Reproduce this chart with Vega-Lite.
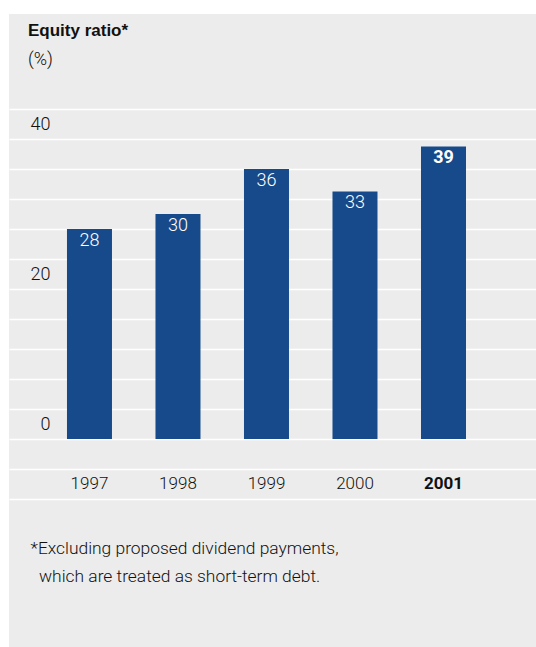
{
  "$schema": "https://vega.github.io/schema/vega-lite/v6.json",
  "width": 527,
  "height": 633,
  "autosize": {"type": "none"},
  "padding": {"left": 9, "top": 14, "right": 0, "bottom": 0},
  "background": "white",
  "config": {"view": {"fill": "#ececec", "stroke": null}, "font": "Roboto"},
  "title": {
    "text": "Equity ratio*",
    "subtitle": "(%)",
    "anchor": "start",
    "frame": "group",
    "offset": -56,
    "dx": 19,
    "fontSize": 17,
    "fontWeight": "bold",
    "font": "Liberation Sans",
    "color": "#111111",
    "subtitleFontSize": 18,
    "subtitleFont": "Roboto",
    "subtitleFontWeight": 300,
    "subtitleColor": "#111111",
    "subtitlePadding": 11
  },
  "data": {
    "values": [
      {"year": "1997", "ratio": 28},
      {"year": "1998", "ratio": 30},
      {"year": "1999", "ratio": 36},
      {"year": "2000", "ratio": 33},
      {"year": "2001", "ratio": 39}
    ]
  },
  "encoding": {
    "x": {
      "field": "year",
      "type": "nominal",
      "sort": null,
      "scale": {"type": "band", "paddingInner": 0.4915, "paddingOuter": 0.723, "align": 0.453},
      "axis": {
        "orient": "bottom",
        "offset": -172,
        "domain": false,
        "ticks": false,
        "tickSize": 0,
        "grid": false,
        "labelPadding": 8.5,
        "labelBaseline": "middle",
        "labelAngle": 0,
        "labelFontSize": 17,
        "labelFont": "Roboto",
        "labelFontWeight": {"condition": {"test": "datum.value === '2001'", "value": "bold"}, "value": 300},
        "labelColor": "#111111",
        "title": ["*Excluding proposed dividend payments,", "\u200b\u00a0\u00a0which are treated as short-term debt."],
        "titleX": 21,
        "titleY": 78,
        "titleAlign": "left",
        "titleAnchor": "start",
        "titleBaseline": "alphabetic",
        "titleFontSize": 17.4,
        "titleFont": "Roboto",
        "titleFontWeight": 300,
        "titleLineHeight": 28,
        "titleColor": "#111111"
      }
    },
    "y": {
      "field": "ratio",
      "type": "quantitative",
      "scale": {"domain": [-27.733, 56.667], "nice": false, "zero": false},
      "axis": {
        "orient": "left",
        "offset": -43,
        "values": [-8, -4, 0, 4, 8, 12, 16, 20, 24, 28, 32, 36, 40, 44],
        "labelExpr": "datum.value % 20 === 0 ? datum.label : ''",
        "labelOffset": -14.5,
        "labelBaseline": "middle",
        "labelPadding": 2,
        "labelFlush": false,
        "labelOverlap": false,
        "domain": false,
        "ticks": false,
        "tickSize": 0,
        "grid": true,
        "gridColor": "#ffffff",
        "gridWidth": 1.5,
        "gridOpacity": 1,
        "labelFontSize": 18,
        "labelFont": "Roboto",
        "labelFontWeight": 300,
        "labelColor": "#111111",
        "title": null
      }
    }
  },
  "layer": [
    {
      "mark": {"type": "bar", "color": "#174a8b"},
      "encoding": {"y2": {"datum": 0}}
    },
    {
      "transform": [{"filter": "datum.year !== '2001'"}],
      "mark": {"type": "text", "baseline": "middle", "dy": 11.5, "color": "#ffffff", "fontSize": 18, "font": "Roboto", "fontWeight": 300},
      "encoding": {"text": {"field": "ratio", "type": "quantitative"}}
    },
    {
      "transform": [{"filter": "datum.year === '2001'"}],
      "mark": {"type": "text", "baseline": "middle", "dy": 11.5, "color": "#ffffff", "fontSize": 18, "font": "Roboto", "fontWeight": "bold"},
      "encoding": {"text": {"field": "ratio", "type": "quantitative"}}
    }
  ]
}
